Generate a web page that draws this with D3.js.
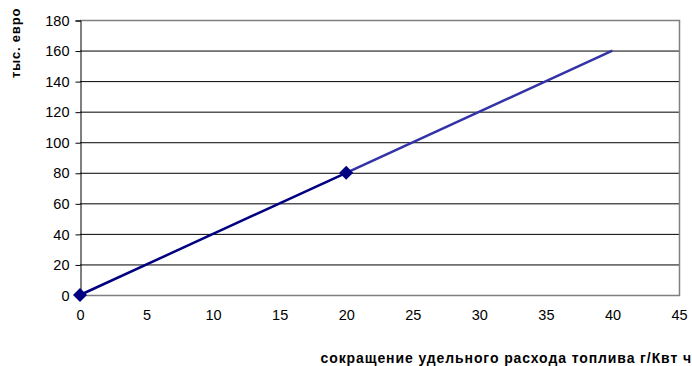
<!DOCTYPE html>
<html>
<head>
<meta charset="utf-8">
<script src="https://cdn.jsdelivr.net/npm/d3@7"></script>
<style>
  html, body { margin: 0; padding: 0; background: #fff; }
  svg { display: block; }
</style>
</head>
<body>
<svg id="chart" width="692" height="366"></svg>
<script>
// Measured points: fuel reduction (g/kWh) vs savings (thousand euro)
const measuredX = [0, 20];
const measuredY = [0, 80];
// Extension of the trend
const trendX = [20, 40];
const trendY = [80, 160];

const xTicks = [0, 5, 10, 15, 20, 25, 30, 35, 40, 45];
const yTicks = [0, 20, 40, 60, 80, 100, 120, 140, 160, 180];

const xTitle = "сокращение удельного расхода топлива г/Квт ч";
const yTitle = "тыс. евро";

(function () {
  const svg = d3.select("#chart");
  const pl = 80, pr = 679, pt = 20, pb = 295;
  const font = "Liberation Sans, Arial, sans-serif";

  const x = d3.scaleLinear().domain([0, 45]).range([pl, pr]);
  const y = d3.scaleLinear().domain([0, 180]).range([pb, pt]);

  // Horizontal gridlines
  svg.append("g")
    .selectAll("line")
    .data(yTicks.filter(v => v > 0 && v < 180))
    .join("line")
    .attr("x1", pl).attr("x2", pr)
    .attr("y1", d => y(d) + 0.5).attr("y2", d => y(d) + 0.5)
    .attr("stroke", "#000").attr("stroke-width", 1);

  // Plot frame (top, right, bottom in gray)
  svg.append("path")
    .attr("d", `M${pl},${y(180) + 0.5}H${pr + 0.5}V${y(0) + 0.5}H${pl}`)
    .attr("fill", "none").attr("stroke", "#808080").attr("stroke-width", 1.5);

  // Y axis
  const yAxis = svg.append("g")
    .attr("transform", `translate(${pl + 0.5},0.5)`)
    .call(d3.axisLeft(y).tickValues(yTicks).tickSize(5).tickPadding(6));
  yAxis.select(".domain").attr("stroke", "#000");
  yAxis.selectAll(".tick line").attr("stroke", "#000");
  yAxis.selectAll("text")
    .attr("font-family", font)
    .attr("font-size", 14.5).attr("fill", "#000");

  // X axis labels (no tick marks)
  const xAxis = svg.append("g")
    .attr("transform", `translate(0,${pb + 0.5})`)
    .call(d3.axisBottom(x).tickValues(xTicks).tickSize(0).tickPadding(14));
  xAxis.select(".domain").remove();
  xAxis.selectAll("text")
    .attr("font-family", font)
    .attr("font-size", 14.5).attr("fill", "#000");

  const line = d3.line().x(d => x(d[0])).y(d => y(d[1]));

  // Trend extension
  svg.append("path")
    .datum(trendX.map((v, i) => [v, trendY[i]]))
    .attr("d", line)
    .attr("fill", "none").attr("stroke", "#3333a8").attr("stroke-width", 2.5);

  // Measured series
  const measured = measuredX.map((v, i) => [v, measuredY[i]]);
  svg.append("path")
    .datum(measured)
    .attr("d", line)
    .attr("fill", "none").attr("stroke", "#000080").attr("stroke-width", 2.5);

  svg.append("g")
    .selectAll("path")
    .data(measured)
    .join("path")
    .attr("transform", d => `translate(${x(d[0])},${y(d[1])})`)
    .attr("d", d3.symbol(d3.symbolDiamond2, 125))
    .attr("fill", "#000080");

  // Axis titles
  svg.append("text")
    .attr("transform", `translate(20,43) rotate(-90)`)
    .attr("text-anchor", "middle")
    .attr("font-family", font)
    .attr("font-size", 13).attr("font-weight", "bold")
    .attr("letter-spacing", 0.8)
    .text(yTitle);

  svg.append("text")
    .attr("x", 692).attr("y", 363)
    .attr("text-anchor", "end")
    .attr("font-family", font)
    .attr("font-size", 14).attr("font-weight", "bold")
    .attr("letter-spacing", 0.9)
    .text(xTitle);
})();
</script>
</body>
</html>
